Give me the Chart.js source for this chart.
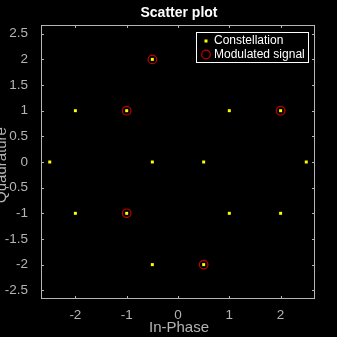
<!DOCTYPE html>
<html>
<head>
<meta charset="utf-8">
<script src="https://cdn.jsdelivr.net/npm/chart.js@4"></script>
<style>
  html, body { margin: 0; padding: 0; background: #000; }
  #wrap { width: 337px; height: 337px; }
</style>
</head>
<body>
<div id="wrap"><canvas id="scatter"></canvas></div>
<script>
// constellation points (16-point, one sits behind the legend)
const constX = [-2.5, -2, -1, 1, 2, -0.5, 0.5, 2.5, -2, -1, 1, 2, -0.5, 0.5, -0.5, 0.5];
const constY = [0, 1, 1, 1, 1, 0, 0, 0, -1, -1, -1, -1, 2, 2, -2, -2];
// received symbols
const sigX = [-0.5, -1, 2, -1, 0.5];
const sigY = [2, 1, 1, -1, -2];
const xTicks = [-2, -1, 0, 1, 2];
const yTicks = [-2.5, -2, -1.5, -1, -0.5, 0, 0.5, 1, 1.5, 2, 2.5];
const axisMin = -2.67, axisMax = 2.67;

const FONT = '"Liberation Sans", Arial, sans-serif';
const AXIS_COLOR = '#b4b4b4';

const toPts = (xs, ys) => xs.map((x, i) => ({ x, y: ys[i] }));

// box, inward ticks, titles, legend
const decor = {
  id: 'decor',
  afterDatasetsDraw(chart) {
    const { ctx, chartArea: a, scales } = chart;
    ctx.save();
    ctx.strokeStyle = AXIS_COLOR;
    ctx.lineWidth = 1;
    ctx.strokeRect(a.left + 0.5, a.top + 0.5, a.right - a.left - 1, a.bottom - a.top - 1);
    ctx.beginPath();
    xTicks.forEach((v) => {
      const px = Math.round(scales.x.getPixelForValue(v)) + 0.5;
      ctx.moveTo(px, a.bottom); ctx.lineTo(px, a.bottom - 3);
      ctx.moveTo(px, a.top); ctx.lineTo(px, a.top + 3);
    });
    yTicks.forEach((v) => {
      const py = Math.round(scales.y.getPixelForValue(v)) + 0.5;
      ctx.moveTo(a.left, py); ctx.lineTo(a.left + 3, py);
      ctx.moveTo(a.right, py); ctx.lineTo(a.right - 3, py);
    });
    ctx.stroke();

    // title
    ctx.fillStyle = '#fff';
    ctx.font = 'bold 14px ' + FONT;
    ctx.textAlign = 'center';
    ctx.textBaseline = 'middle';
    ctx.fillText('Scatter plot', (a.left + a.right) / 2 + 1, 13);

    // axis titles
    ctx.fillStyle = AXIS_COLOR;
    ctx.font = '15px ' + FONT;
    ctx.fillText('In-Phase', (a.left + a.right) / 2 + 1, 328);
    ctx.save();
    ctx.translate(6, (a.top + a.bottom) / 2 + 3);
    ctx.rotate(-Math.PI / 2);
    ctx.textBaseline = 'alphabetic';
    ctx.fillText('Quadrature', 0, 0);
    ctx.restore();

    // legend
    const lx = 196, ly = 32, lw = 113, lh = 31;
    ctx.fillStyle = '#000';
    ctx.fillRect(lx, ly, lw, lh);
    ctx.strokeStyle = '#fff';
    ctx.strokeRect(lx + 0.5, ly + 0.5, lw - 1, lh - 1);
    ctx.fillStyle = '#ffff00';
    ctx.fillRect(lx + 8.5, ly + 7.5, 3, 3);
    ctx.strokeStyle = '#c00000';
    ctx.lineWidth = 1.2;
    ctx.beginPath();
    ctx.arc(lx + 10, ly + 22.5, 4.3, 0, Math.PI * 2);
    ctx.stroke();
    ctx.fillStyle = '#fff';
    ctx.font = '12px ' + FONT;
    ctx.textAlign = 'left';
    ctx.fillText(chart.data.datasets[0].label, lx + 18, ly + 9);
    ctx.fillText(chart.data.datasets[1].label, lx + 18, ly + 22.5);
    ctx.restore();
  },
};

new Chart(document.getElementById('scatter'), {
  type: 'scatter',
  data: {
    datasets: [
      {
        label: 'Constellation',
        data: toPts(constX, constY),
        pointStyle: 'rect',
        pointRadius: 2.1,
        backgroundColor: '#ffff00',
        borderColor: '#ffff00',
        borderWidth: 0,
        order: 1,
      },
      {
        label: 'Modulated signal',
        data: toPts(sigX, sigY),
        pointStyle: 'circle',
        pointRadius: 4.3,
        backgroundColor: 'rgba(0,0,0,0)',
        borderColor: '#c00000',
        borderWidth: 1.2,
        order: 2,
      },
    ],
  },
  options: {
    responsive: true,
    maintainAspectRatio: false,
    animation: false,
    layout: { padding: { top: 25, right: 22, left: 0, bottom: 0 } },
    plugins: {
      legend: { display: false },
      title: { display: false },
      tooltip: { enabled: false },
    },
    scales: {
      x: {
        type: 'linear',
        min: axisMin,
        max: axisMax,
        afterBuildTicks: (s) => { s.ticks = xTicks.map((v) => ({ value: v })); },
        afterFit: (s) => { s.height = 38; },
        grid: { display: false },
        border: { display: false },
        ticks: {
          color: AXIS_COLOR,
          font: { family: FONT, size: 13.5 },
          padding: 0,
          callback: (v) => String(v),
        },
      },
      y: {
        type: 'linear',
        min: axisMin,
        max: axisMax,
        afterBuildTicks: (s) => { s.ticks = yTicks.map((v) => ({ value: v })); },
        afterFit: (s) => { s.width = 41; },
        grid: { display: false },
        border: { display: false },
        ticks: {
          color: AXIS_COLOR,
          font: { family: FONT, size: 13.5 },
          padding: 5,
          callback: (v) => String(v),
        },
      },
    },
  },
  plugins: [decor],
});
</script>
</body>
</html>
